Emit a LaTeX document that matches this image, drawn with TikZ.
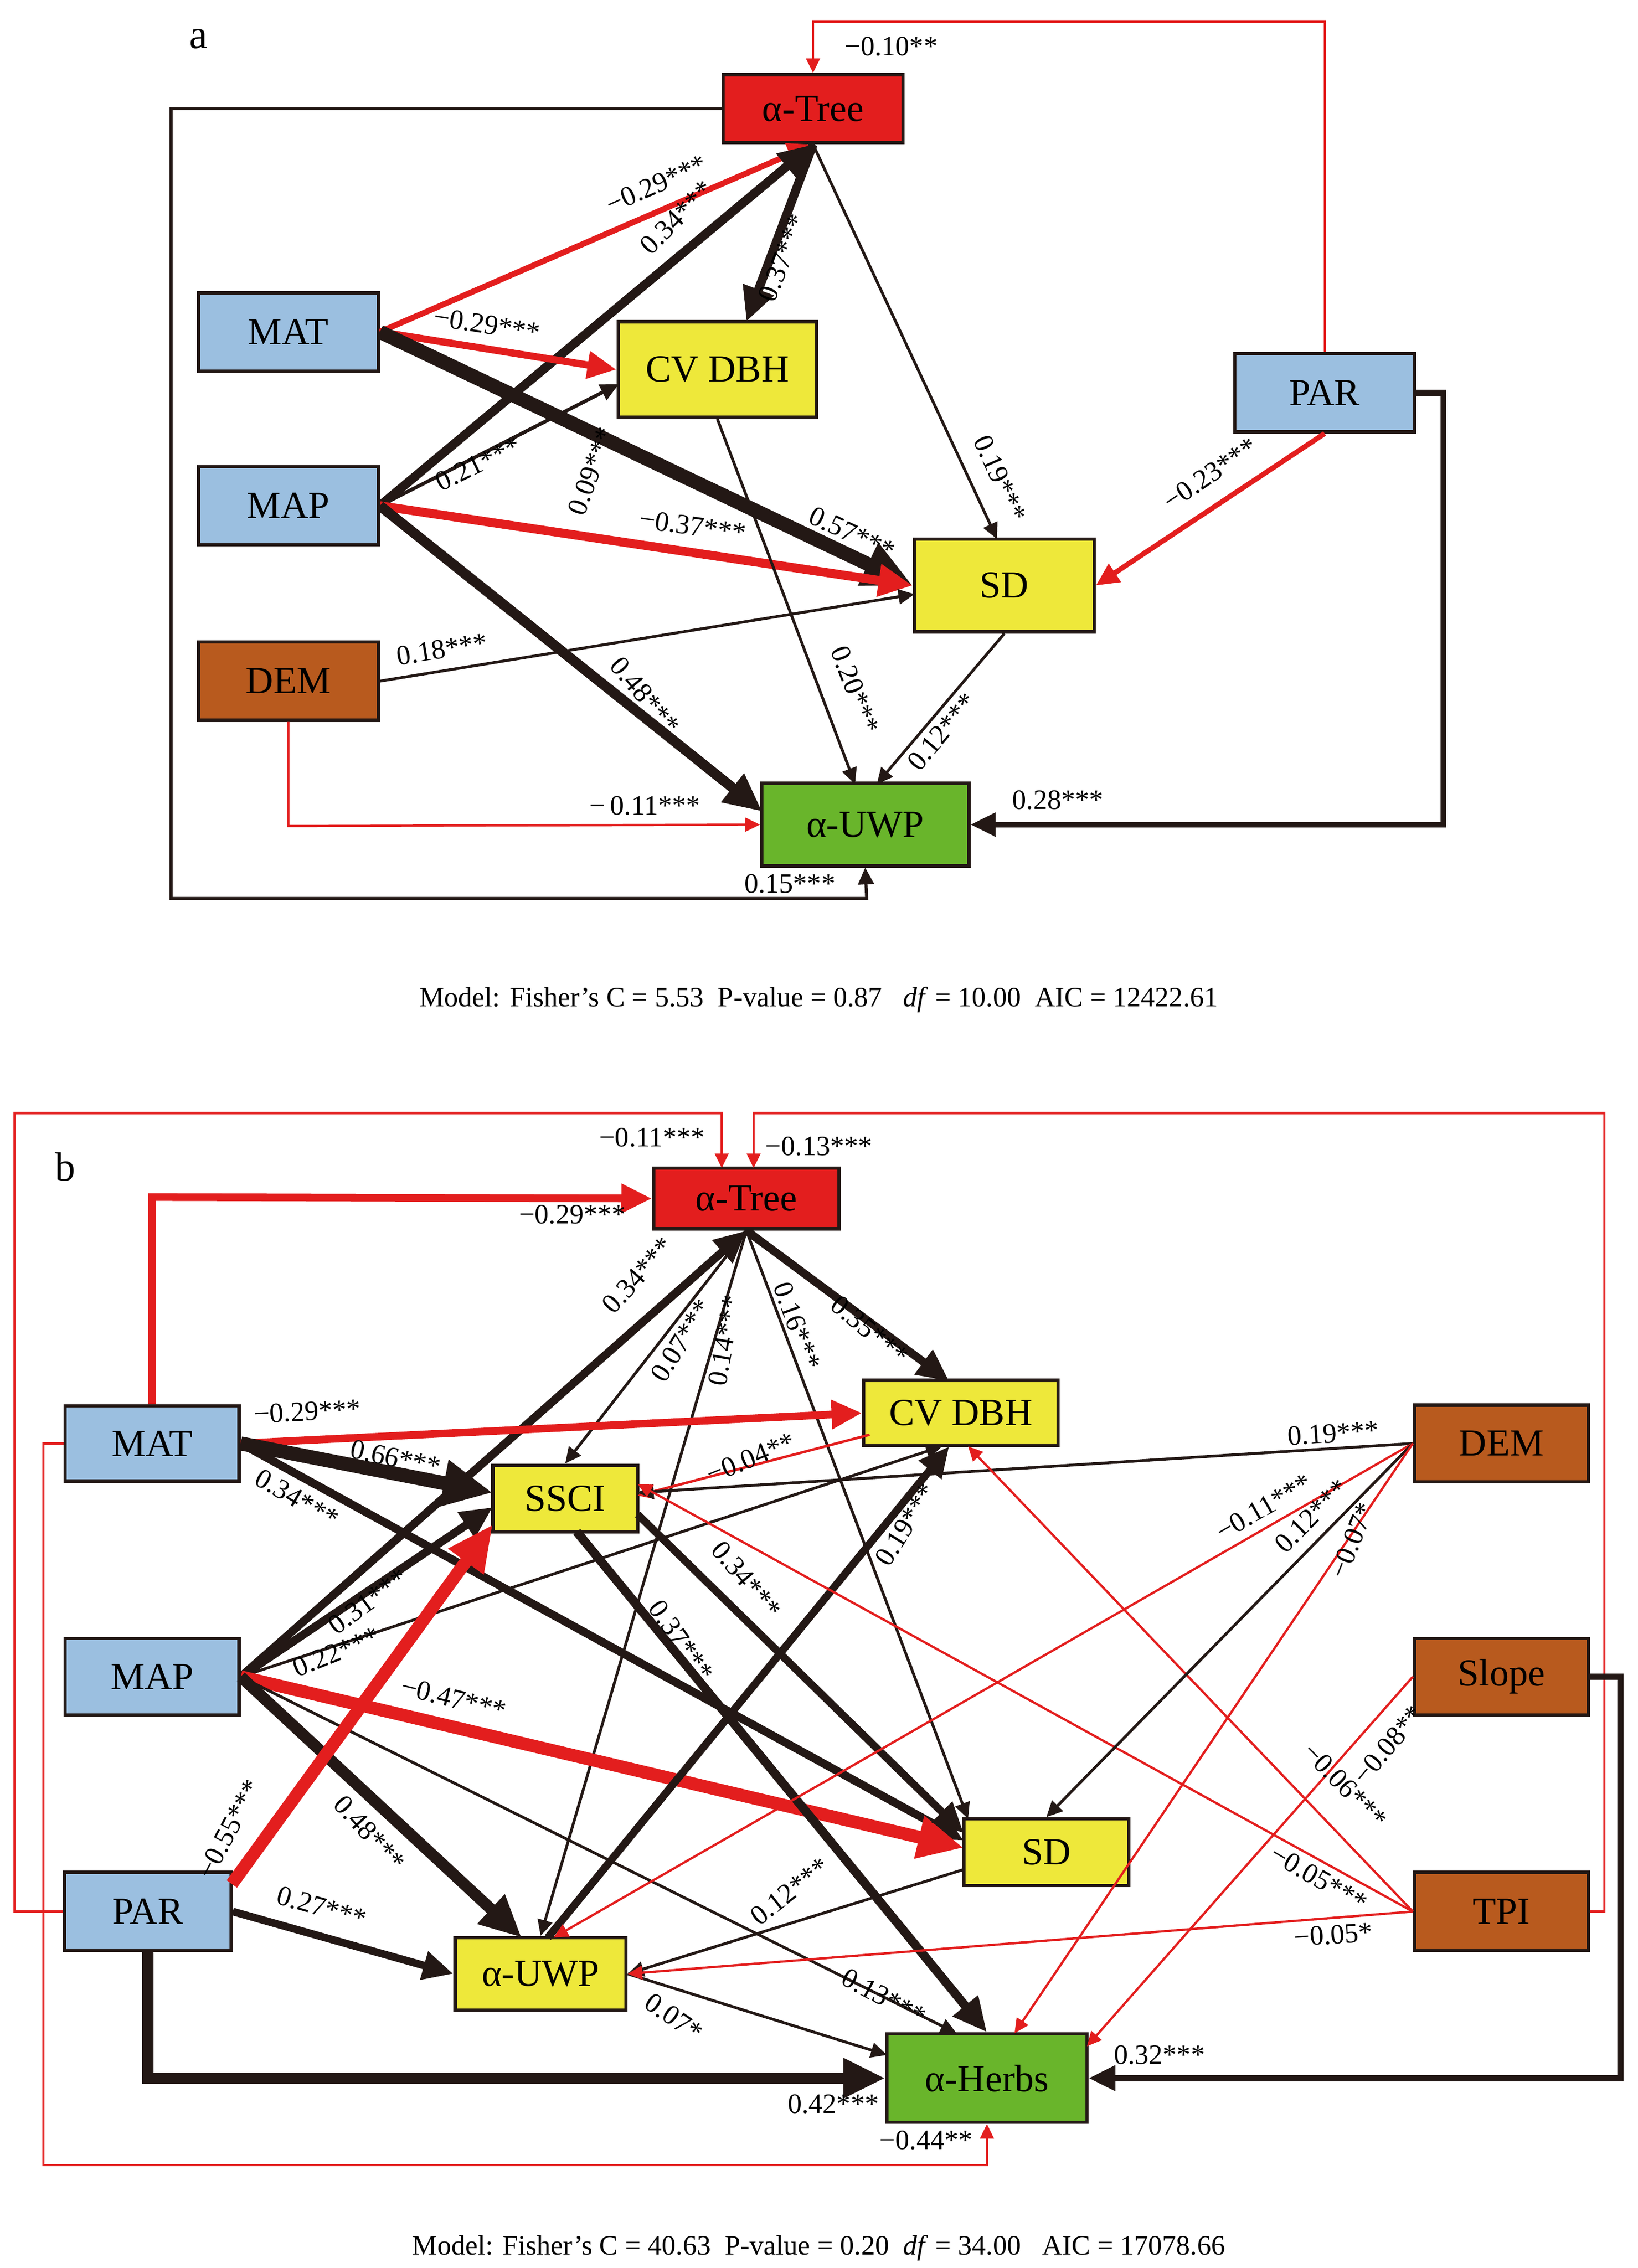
\documentclass[tikz,border=0pt]{standalone}
\usepackage{fontspec}
\setmainfont{Liberation Serif}
\usetikzlibrary{arrows.meta}

\definecolor{cblue}{HTML}{9BBFE0}
\definecolor{cred}{HTML}{E31E1E}
\definecolor{cyel}{HTML}{EEE83A}
\definecolor{cbrown}{HTML}{B85A1E}
\definecolor{cgreen}{HTML}{69B52B}
\definecolor{cblk}{HTML}{231815}

\tikzset{
  box/.style 2 args={draw=cblk, line width=1.3pt, minimum width=#1*0.02cm, minimum height=#2*0.02cm,
    inner sep=0pt, font=\fontsize{15}{18}\selectfont},
  lab/.style={font=\fontsize{11}{13}\selectfont, inner sep=1pt},
  pos/.style={draw=cblk, -{Triangle[length=3pt 3, width=3pt 2.6]}, line width=#1},
  neg/.style={draw=cred, -{Triangle[length=3pt 3, width=3pt 2.6]}, line width=#1},
}

\begin{document}
\begin{tikzpicture}[x=0.02cm, y=-0.02cm]
\useasboundingbox (0,0) rectangle (1130,1565);

% panel a
\node[font=\fontsize{16}{18}\selectfont] at (137,27) (taga) {a};
\node[box={124}{47}, fill=cred] at (561,75) (treeA) {α-Tree};
\node[box={124}{54}, fill=cblue] at (199,229) (matA) {MAT};
\node[box={137}{66}, fill=cyel] at (495,255) (cvA) {CV DBH};
\node[box={124}{54}, fill=cblue] at (199,349) (mapA) {MAP};
\node[box={124}{54}, fill=cblue] at (914,271) (parA) {PAR};
\node[box={124}{64}, fill=cyel] at (693,404) (sdA) {SD};
\node[box={124}{54}, fill=cbrown] at (199,470) (demA) {DEM};
\node[box={143}{57}, fill=cgreen] at (597,569) (uwpA) {α-UWP};

\draw[pos=1.2pt] (treeA.west) -- (118,75) -- (118,620) -- (598,620) -- (uwpA.south);
\draw[neg=0.9pt] (parA.north) -- (914,15) -- (561,15) -- (treeA.north);
\draw[neg=2.3pt] (matA.east) -- (treeA.south);
\draw[pos=3.5pt] (mapA.east) -- (treeA.south);
\draw[pos=3.5pt] (treeA.south) -- (515,222);
\draw[pos=1.1pt] (treeA.south) -- (688,372);
\draw[neg=2.8pt] (matA.east) -- (cvA.west);
\draw[pos=1.4pt] (mapA.east) -- (427,265);
\draw[pos=5.5pt] (matA.east) -- (sdA.west);
\draw[neg=3.5pt] (mapA.east) -- (sdA.west);
\draw[pos=4pt] (mapA.east) -- (526,560);
\draw[pos=1.1pt] (cvA.south) -- (590,541);
\draw[pos=1.1pt] (demA.east) -- (631,410);
\draw[pos=1.1pt] (sdA.south) -- (605,541);
\draw[neg=2pt] (parA.south) -- (sdA.east);
\draw[neg=0.9pt] (demA.south) -- (199,570) -- (uwpA.west);
\draw[pos=2.3pt] (parA.east) -- (996,271) -- (996,569) -- (uwpA.east);

\node[lab] at (615,32) (la1) {−0.10**};
\node[lab, rotate=24] at (453,127) (la2) {−0.29***};
\node[lab, rotate=45] at (467,150) (la3) {0.34***};
\node[lab, rotate=69] at (540,178) (la4) {0.37***};
\node[lab, rotate=-66] at (690,330) (la5) {0.19***};
\node[lab, rotate=-9] at (336,224) (la6) {−0.29***};
\node[lab, rotate=-25] at (588,368) (la7) {0.57***};
\node[lab, rotate=26] at (330,320) (la8) {0.21***};
\node[lab, rotate=70] at (408,325) (la9) {0.09***};
\node[lab, rotate=-8] at (478,363) (la10) {−0.37***};
\node[lab, rotate=-50] at (445,480) (la11) {0.48***};
\node[lab, rotate=9] at (305,448) (la12) {0.18***};
\node[lab, rotate=-69] at (590,476) (la13) {0.20***};
\node[lab, rotate=50] at (650,505) (la14) {0.12***};
\node[lab, rotate=34] at (835,327) (la15) {−0.23***};
\node[lab] at (445,556) (la16) {−\,0.11***};
\node[lab] at (730,552) (la17) {0.28***};
\node[lab] at (545,610) (la18) {0.15***};

\node[lab] at (565,690) (capa) {Model: Fisher’s C = 5.53\ \ P-value = 0.87\ \ \ \textit{df} = 10.00\ \ AIC = 12422.61};

% panel b
\node[font=\fontsize{16}{18}\selectfont] at (45,805) (tagb) {b};
\node[box={128}{42}, fill=cred] at (515,827) (treeB) {α-Tree};
\node[box={120}{52}, fill=cblue] at (105,996) (matB) {MAT};
\node[box={134}{45}, fill=cyel] at (663,975) (cvB) {CV DBH};
\node[box={100}{46}, fill=cyel] at (390,1034) (ssci) {SSCI};
\node[box={120}{53}, fill=cbrown] at (1036,996) (demB) {DEM};
\node[box={120}{53}, fill=cblue] at (105,1157) (mapB) {MAP};
\node[box={120}{53}, fill=cbrown] at (1036,1157) (slope) {Slope};
\node[box={114}{46}, fill=cyel] at (722,1278) (sdB) {SD};
\node[box={115}{54}, fill=cblue] at (102,1319) (parB) {PAR};
\node[box={120}{54}, fill=cbrown] at (1036,1319) (tpi) {TPI};
\node[box={118}{50}, fill=cyel] at (373,1362) (uwpB) {α-UWP};
\node[box={138}{61}, fill=cgreen] at (681,1434) (herbs) {α-Herbs};

% loops
\draw[neg=0.9pt] (parB.west) -- (10,1319) -- (10,768) -- (498,768) -- (498,806);
\draw[neg=0.9pt] (tpi.east) -- (1107,1319) -- (1107,768) -- (520,768) -- (520,806);
\draw[neg=3pt] (matB.north) -- (105,826) -- (treeB.west);
\draw[neg=0.9pt] (matB.west) -- (30,996) -- (30,1494) -- (681,1494) -- (herbs.south);
\draw[pos=4.5pt] (parB.south) -- (102,1434) -- (herbs.west);
\draw[pos=2.5pt] (slope.east) -- (1118,1157) -- (1118,1434) -- (herbs.east);

% from alpha-Tree
\draw[pos=3.2pt] (mapB.east) -- (treeB.south);
\draw[pos=1.1pt] (treeB.south) -- (ssci.north);
\draw[pos=1.1pt] (treeB.south) -- (uwpB.north);
\draw[pos=1.1pt] (treeB.south) -- (668,1255);
\draw[pos=3.2pt] (treeB.south) -- (655,953);

% from MAT, MAP, PAR
\draw[neg=3pt] (matB.east) -- (cvB.west);
\draw[pos=5.5pt] (matB.east) -- (340,1030);
\draw[pos=3.2pt] (matB.east) -- (665,1270);
\draw[pos=3.2pt] (mapB.east) -- (340,1040);
\draw[pos=1.1pt] (mapB.east) -- (650,998);
\draw[neg=5pt] (mapB.east) -- (665,1275);
\draw[pos=4.5pt] (mapB.east) -- (360,1337);
\draw[pos=1.1pt] (mapB.east) -- (660,1403);
\draw[neg=5pt] (160,1300) -- (340,1052);
\draw[pos=3pt] (parB.east) -- (uwpB.west);

% from SSCI, CV DBH, alpha-UWP, SD
\draw[pos=3.5pt] (398,1057) -- (herbs.north);
\draw[pos=3pt] (440,1045) -- (665,1265);
\draw[neg=1pt] (600,990) -- (440,1032);
\draw[pos=3pt] (378,1337) -- (655,998);
\draw[pos=1.1pt] (665,1290) -- (uwpB.east);
\draw[pos=1.1pt] (uwpB.east) -- (612,1418);

% from DEM, Slope, TPI
\draw[pos=1.1pt] (demB.west) -- (440,1030);
\draw[neg=0.9pt] (tpi.west) -- (440,1024);
\draw[neg=0.9pt] (tpi.west) -- (668,998);
\draw[neg=0.9pt] (demB.west) -- (382,1337);
\draw[pos=1.1pt] (demB.west) -- (sdB.north);
\draw[neg=0.9pt] (demB.west) -- (700,1403);
\draw[neg=0.9pt] (slope.west) -- (750,1412);
\draw[neg=0.9pt] (tpi.west) -- (uwpB.east);

\node[lab] at (450,785) (lb1) {−0.11***};
\node[lab] at (565,791) (lb2) {−0.13***};
\node[lab] at (395,838) (lb3) {−0.29***};
\node[lab, rotate=48] at (440,880) (lb4) {0.34***};
\node[lab, rotate=58] at (470,925) (lb5) {0.07***};
\node[lab, rotate=80] at (500,925) (lb6) {0.14***};
\node[lab, rotate=-70] at (550,915) (lb7) {0.16***};
\node[lab, rotate=-40] at (600,918) (lb8) {0.35***};
\node[lab, rotate=3] at (212,974) (lb9) {−0.29***};
\node[lab, rotate=-12] at (273,1006) (lb10) {0.66***};
\node[lab, rotate=-30] at (205,1034) (lb11) {0.34***};
\node[lab, rotate=36] at (254,1105) (lb12) {0.31***};
\node[lab, rotate=22] at (232,1140) (lb13) {0.22***};
\node[lab, rotate=-14] at (313,1172) (lb14) {−0.47***};
\node[lab, rotate=-48] at (255,1265) (lb15) {0.48***};
\node[lab, rotate=-28] at (610,1378) (lb16) {0.13***};
\node[lab, rotate=62] at (158,1262) (lb17) {−0.55***};
\node[lab, rotate=-16] at (222,1316) (lb18) {0.27***};
\node[lab] at (575,1452) (lb19) {0.42***};
\node[lab, rotate=-55] at (470,1132) (lb20) {0.37***};
\node[lab, rotate=-50] at (515,1090) (lb21) {0.34***};
\node[lab, rotate=22] at (518,1006) (lb22) {−0.04**};
\node[lab, rotate=4] at (920,989) (lb23) {0.19***};
\node[lab, rotate=-30] at (910,1296) (lb24) {−0.05***};
\node[lab, rotate=58] at (625,1052) (lb25) {0.19***};
\node[lab, rotate=-46] at (928,1232) (lb26) {−0.06***};
\node[lab, rotate=30] at (872,1040) (lb27) {−0.11***};
\node[lab, rotate=45] at (905,1046) (lb28) {0.12***};
\node[lab, rotate=68] at (933,1063) (lb29) {−0.07*};
\node[lab, rotate=50] at (958,1204) (lb30) {−0.08**};
\node[lab] at (800,1418) (lb31) {0.32***};
\node[lab, rotate=4] at (920,1335) (lb32) {−0.05*};
\node[lab, rotate=38] at (545,1305) (lb33) {0.12***};
\node[lab, rotate=-35] at (465,1392) (lb34) {0.07*};
\node[lab] at (639,1477) (lb35) {−0.44**};

\node[lab] at (565,1551) (capb) {Model: Fisher’s C = 40.63\ \ P-value = 0.20\ \ \textit{df} = 34.00\ \ \ AIC = 17078.66};
\end{tikzpicture}
\end{document}
